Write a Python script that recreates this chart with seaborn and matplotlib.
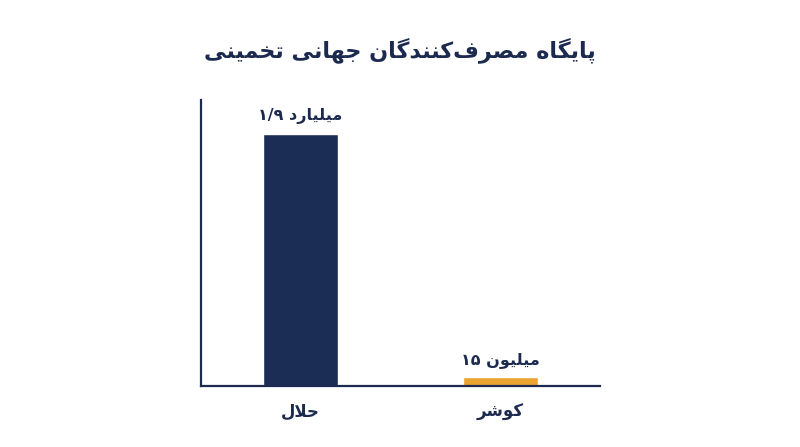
import re
import matplotlib
matplotlib.use("Agg")
import matplotlib.pyplot as plt
import seaborn as sns

# data (bar heights in millions, as drawn)
categories = ["حلال", "کوشر"]
heights = [1900, 65]
value_labels = ["۱/۹ میلیارد", "۱۵ میلیون"]
title = "پایگاه مصرف\u200cکنندگان جهانی تخمینی"
colors = ["#1b2d55", "#eba42f"]
text_color = "#1b2a4e"

# minimal Persian shaping (matplotlib has no text shaping)
# letter: (isolated, final, initial, medial)
FORMS = {
    "ا": (0xFE8D, 0xFE8E, None, None), "آ": (0xFE81, 0xFE82, None, None),
    "ب": (0xFE8F, 0xFE90, 0xFE91, 0xFE92), "پ": (0xFB56, 0xFB57, 0xFB58, 0xFB59),
    "ت": (0xFE95, 0xFE96, 0xFE97, 0xFE98), "ج": (0xFE9D, 0xFE9E, 0xFE9F, 0xFEA0),
    "ح": (0xFEA1, 0xFEA2, 0xFEA3, 0xFEA4), "خ": (0xFEA5, 0xFEA6, 0xFEA7, 0xFEA8),
    "د": (0xFEA9, 0xFEAA, None, None), "ر": (0xFEAD, 0xFEAE, None, None),
    "ش": (0xFEB5, 0xFEB6, 0xFEB7, 0xFEB8), "ص": (0xFEB9, 0xFEBA, 0xFEBB, 0xFEBC),
    "ف": (0xFED1, 0xFED2, 0xFED3, 0xFED4), "ک": (0xFB8E, 0xFB8F, 0xFB90, 0xFB91),
    "گ": (0xFB92, 0xFB93, 0xFB94, 0xFB95), "ل": (0xFEDD, 0xFEDE, 0xFEDF, 0xFEE0),
    "م": (0xFEE1, 0xFEE2, 0xFEE3, 0xFEE4), "ن": (0xFEE5, 0xFEE6, 0xFEE7, 0xFEE8),
    "ه": (0xFEE9, 0xFEEA, 0xFEEB, 0xFEEC), "و": (0xFEED, 0xFEEE, None, None),
    "ی": (0xFBFC, 0xFBFD, 0xFBFE, 0xFBFF),
}


def dual(c):
    return c in FORMS and FORMS[c][2] is not None


def shape_word(s):
    out = []
    i = 0
    while i < len(s):
        c = s[i]
        if c not in FORMS:
            out.append(c)
            i += 1
            continue
        joins_prev = i > 0 and dual(s[i - 1])
        if c == "ل" and i + 1 < len(s) and s[i + 1] == "ا":
            out.append(chr(0xFEFC if joins_prev else 0xFEFB))
            i += 2
            continue
        joins_next = dual(c) and i + 1 < len(s) and s[i + 1] in FORMS
        f = FORMS[c]
        if joins_prev and joins_next:
            g = f[3]
        elif joins_prev:
            g = f[1]
        elif joins_next:
            g = f[2]
        else:
            g = f[0]
        out.append(chr(g))
        i += 1
    return "".join(out)


def fa(s):
    # LTR base direction: each Arabic run is shaped, then reversed in place
    run = r"([\u0600-\u06EF][\u0600-\u06EF\u200c ]*[\u0600-\u06EF]|[\u0600-\u06EF])"
    res = ""
    for p in re.split(run, s):
        if p and re.match(r"[\u0600-\u06EF]", p):
            words = ["".join(shape_word(x) for x in w.split("\u200c")) for w in p.split(" ")]
            res += " ".join(words)[::-1]
        else:
            res += p
    return res


sns.set_theme(style="white")
plt.rcParams["font.family"] = ["DejaVu Sans"]

fig = plt.figure(figsize=(8, 4.47), dpi=100)
ax = fig.add_axes([0.251, 0.1365, 0.499, 0.6395])

sns.barplot(x=categories, y=heights, hue=categories, palette=colors,
            width=0.375, legend=False, saturation=1, ax=ax)

ax.set_xlim(-0.5, 1.5)
ax.set_ylim(0, 2156)
ax.set_yticks([])
ax.set_xticks(range(len(categories)))
ax.set_xticklabels([fa(c) for c in categories], fontsize=12, fontweight="bold", color=text_color)
ax.tick_params(axis="x", length=0, pad=12)
ax.set_xlabel("")
ax.set_ylabel("")

for sp in ["top", "right"]:
    ax.spines[sp].set_visible(False)
for sp in ["left", "bottom"]:
    ax.spines[sp].set_color(text_color)
    ax.spines[sp].set_linewidth(1.6)

for i, (h, lab) in enumerate(zip(heights, value_labels)):
    ax.annotate(fa(lab), (i, h), xytext=(0, 7), textcoords="offset points",
                ha="center", va="bottom", fontsize=11.5, fontweight="bold", color=text_color)

fig.text(0.5, 0.888, fa(title), ha="center", va="center", fontsize=16,
         fontweight="bold", color=text_color)

fig.savefig("out.png", dpi=100, facecolor="white")
